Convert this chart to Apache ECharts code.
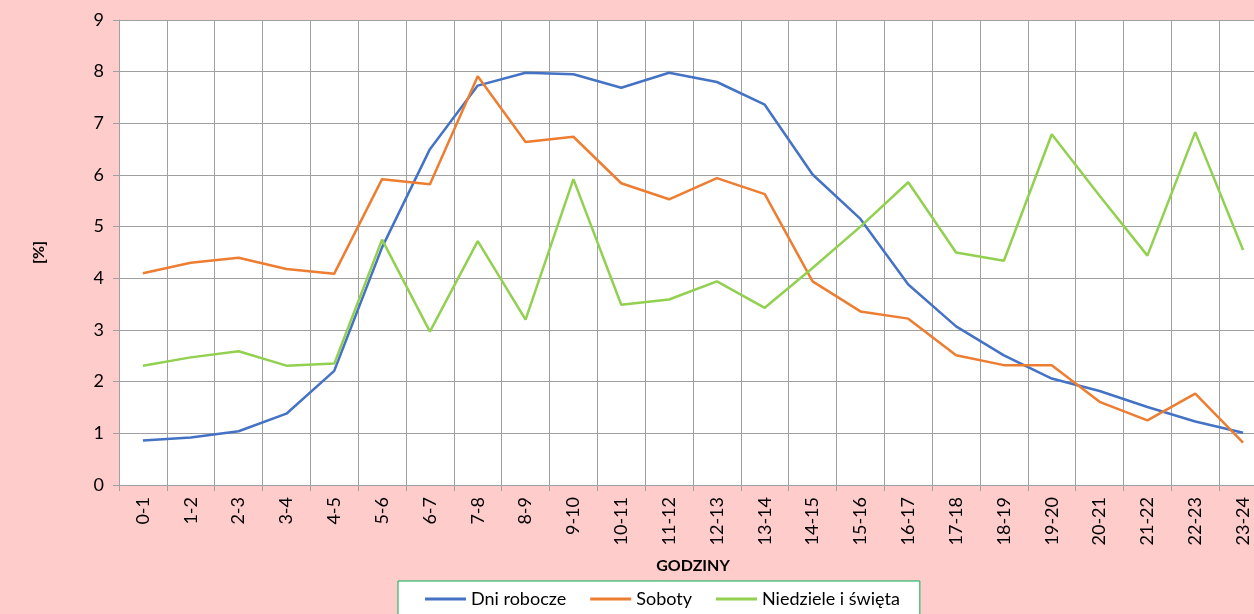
<!DOCTYPE html>
<html>
<head>
<meta charset="utf-8">
<style>
  html, body { margin: 0; padding: 0; background: #FFCCCC; }
  #chart { width: 1254px; height: 614px; }
</style>
<script src="https://cdn.jsdelivr.net/npm/echarts@6/dist/echarts.min.js"></script>
</head>
<body>
<div id="chart"></div>
<script>
const hours = ['0-1','1-2','2-3','3-4','4-5','5-6','6-7','7-8','8-9','9-10','10-11','11-12',
  '12-13','13-14','14-15','15-16','16-17','17-18','18-19','19-20','20-21','21-22','22-23','23-24'];

const dniRobocze = [0.86, 0.92, 1.04, 1.38, 2.21, 4.6, 6.5, 7.73, 7.98, 7.95, 7.69, 7.98,
  7.80, 7.36, 6.01, 5.15, 3.88, 3.07, 2.51, 2.06, 1.82, 1.51, 1.23, 1.01];
const soboty = [4.10, 4.30, 4.40, 4.18, 4.09, 5.92, 5.82, 7.91, 6.64, 6.74, 5.84, 5.53,
  5.94, 5.63, 3.94, 3.36, 3.22, 2.51, 2.32, 2.32, 1.61, 1.25, 1.77, 0.82];
const niedziele = [2.31, 2.47, 2.59, 2.31, 2.35, 4.75, 2.97, 4.72, 3.20, 5.92, 3.49, 3.59,
  3.94, 3.43, 4.2, 5.0, 5.86, 4.50, 4.34, 6.79, 5.6, 4.44, 6.83, 4.55];

const seriesDefs = [
  { name: 'Dni robocze', data: dniRobocze, color: '#4472C4' },
  { name: 'Soboty', data: soboty, color: '#ED7D31' },
  { name: 'Niedziele i święta', data: niedziele, color: '#92D050' }
];

const font = 'Lato, "Liberation Sans", sans-serif';
const gridColor = '#A0A0A0';

const chart = echarts.init(document.getElementById('chart'));
chart.setOption({
  backgroundColor: '#FFCCCC',
  animation: false,
  textStyle: { fontFamily: font },
  // plot runs past the right edge, like the cropped original
  grid: {
    left: 119, top: 20, width: 1148, height: 465,
    outerBoundsMode: 'none',
    show: true, backgroundColor: '#FFFFFF', borderWidth: 0
  },
  legend: {
    data: seriesDefs.map(s => s.name),
    left: 398,
    top: 581,
    icon: 'rect',
    backgroundColor: '#FFFFFF',
    borderColor: '#00B050',
    borderWidth: 1,
    borderRadius: 0,
    padding: [9, 20, 12, 27],
    itemWidth: 41,
    itemHeight: 3,
    itemGap: 24,
    textStyle: { color: '#000', fontSize: 18, fontFamily: font }
  },
  xAxis: {
    type: 'category',
    data: hours,
    boundaryGap: true,
    name: 'GODZINY',
    nameLocation: 'middle',
    nameGap: 73,
    nameTextStyle: { color: '#000', fontSize: 16, fontWeight: 'bold', fontFamily: font },
    axisLine: { lineStyle: { color: gridColor, width: 1 } },
    axisTick: { show: true, length: 6, alignWithLabel: false, lineStyle: { color: gridColor } },
    axisLabel: { rotate: 90, interval: 0, margin: 12, color: '#000', fontSize: 18, fontFamily: font },
    splitLine: { show: true, interval: 0, lineStyle: { color: gridColor, width: 1 } }
  },
  yAxis: {
    type: 'value',
    min: 0,
    max: 9,
    interval: 1,
    name: '[%]',
    nameLocation: 'middle',
    nameGap: 72,
    nameRotate: 90,
    nameTextStyle: { color: '#000', fontSize: 16, fontWeight: 'bold', fontFamily: font },
    axisLine: { show: true, lineStyle: { color: gridColor, width: 1 } },
    axisTick: { show: true, length: 6, lineStyle: { color: gridColor } },
    axisLabel: { margin: 15, color: '#000', fontSize: 18, fontFamily: font },
    splitLine: { show: true, lineStyle: { color: gridColor, width: 1 } }
  },
  series: seriesDefs.map(s => ({
    name: s.name,
    type: 'line',
    data: s.data,
    symbol: 'none',
    smooth: false,
    lineStyle: { width: 2.5, color: s.color },
    itemStyle: { color: s.color }
  }))
});
</script>
</body>
</html>
